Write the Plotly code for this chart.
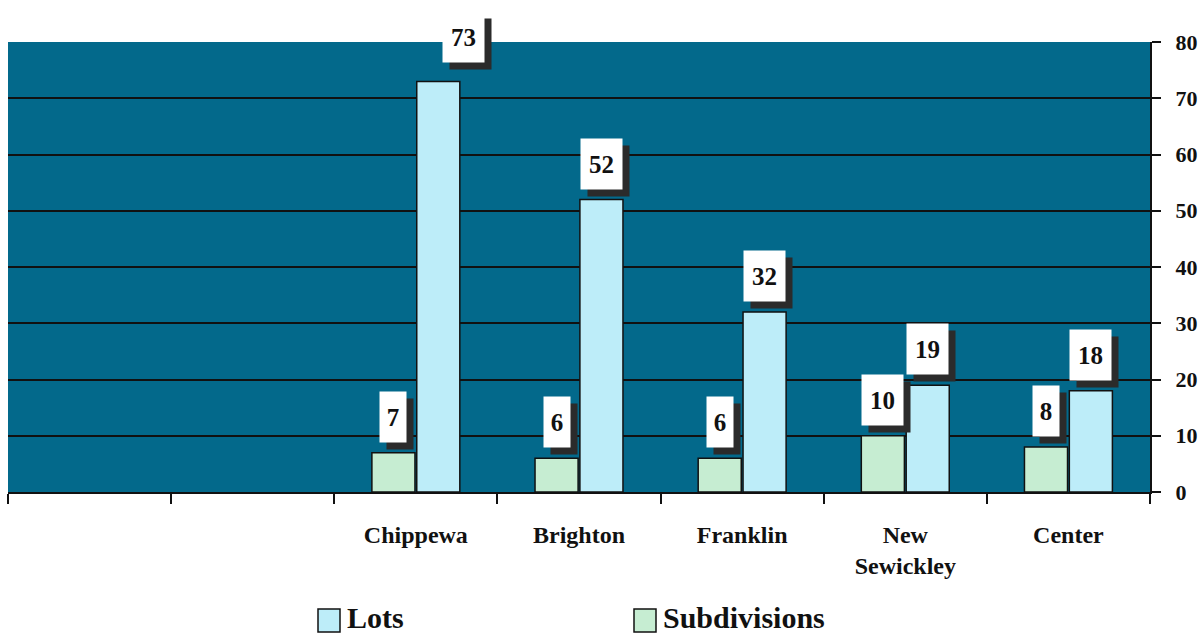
import plotly.graph_objects as go

categories = [" ", "  ", "Chippewa", "Brighton", "Franklin", "New<br>Sewickley", "Center"]
subdivisions = [None, None, 7, 6, 6, 10, 8]
lots = [None, None, 73, 52, 32, 19, 18]
y_ticks = [0, 10, 20, 30, 40, 50, 60, 70, 80]
legend_names = ["Lots", "Subdivisions"]

FONT = "Liberation Serif, Times New Roman, serif"
BG = "#03698B"
COL_SUB = "#C6EDD2"
COL_LOTS = "#BDEDF9"

W, H = 1201, 637
PX0, PX1, PY0, PY1 = 8, 1150, 42, 492  # plot area in pixels
ML, MR, MT, MB = PX0, W - PX1, PY0, H - PY1


def px2paper(px, py):
    return (px - PX0) / (PX1 - PX0), (PY1 - py) / (PY1 - PY0)


fig = go.Figure()
fig.add_trace(go.Bar(x=categories, y=subdivisions, name="Subdivisions", showlegend=False,
                     marker=dict(color=COL_SUB, line=dict(color="#111", width=1.5))))
fig.add_trace(go.Bar(x=categories, y=lots, name="Lots", showlegend=False,
                     marker=dict(color=COL_LOTS, line=dict(color="#111", width=1.5))))

cat_w = (PX1 - PX0) / len(categories)
bargap = 0.45
shift = cat_w * (1 - bargap) / 4

annotations = []
for series, sgn in ((subdivisions, -1), (lots, 1)):
    for c, v in zip(categories, series):
        if v is None:
            continue
        txt = str(v)
        w = 15 * len(txt) + 11
        xs = sgn * shift
        ys = 36
        if v > 70:
            xs += 25
            ys += 8
        annotations.append(dict(x=c, y=v, xref="x", yref="y", text="", showarrow=False,
                                xshift=xs + 7, yshift=ys - 7, width=w, height=50,
                                bgcolor="#2b2b2b", borderpad=0))
        annotations.append(dict(x=c, y=v, xref="x", yref="y", text=txt,
                                showarrow=False, xshift=xs, yshift=ys, width=w, height=50,
                                bgcolor="white", borderpad=0,
                                font=dict(family=FONT, size=25, color="#111", weight="bold")))

# manual legend (large swatches like the original)
shapes = []
legend_items = [(legend_names[0], COL_LOTS, 318), (legend_names[1], COL_SUB, 634)]
for name, col, sx in legend_items:
    x0, y0 = px2paper(sx, 632)
    x1, y1 = px2paper(sx + 22, 609)
    shapes.append(dict(type="rect", xref="paper", yref="paper", x0=x0, x1=x1, y0=y0, y1=y1,
                       fillcolor=col, line=dict(color="#111", width=1.5), layer="above"))
    tx, ty = px2paper(sx + 27, 617)
    annotations.append(dict(x=tx, y=ty, xref="paper", yref="paper", text=name, showarrow=False,
                            xanchor="left", yanchor="middle",
                            font=dict(family=FONT, size=30, color="#111", weight="bold")))

fig.update_layout(
    width=W, height=H,
    margin=dict(l=ML, r=MR, t=MT, b=MB, autoexpand=False),
    paper_bgcolor="white", plot_bgcolor=BG,
    barmode="group", bargap=bargap, bargroupgap=0.04,
    font=dict(family=FONT, color="#111"),
    annotations=annotations, shapes=shapes,
    showlegend=False,
)
fig.update_xaxes(type="category", categoryorder="array", categoryarray=categories,
                 showgrid=False, showline=True, linecolor="#111", linewidth=2,
                 ticks="outside", tickson="boundaries", ticklen=10, tickcolor="#111", tickwidth=2,
                 ticklabelstandoff=20,
                 tickfont=dict(family=FONT, size=24, color="#111", weight="bold"))
fig.update_yaxes(range=[0, 80], tickvals=y_ticks, side="right",
                 showgrid=True, gridcolor="#111", gridwidth=1.5,
                 showline=True, linecolor="#111", linewidth=2, zeroline=False,
                 ticks="outside", ticklen=9, tickcolor="#111", tickwidth=2,
                 ticklabelstandoff=10,
                 tickfont=dict(family=FONT, size=22, color="#111", weight="bold"))

fig.write_html("out.html", config={"displayModeBar": False},
               post_script="document.body.style.margin='0';document.body.style.overflow='hidden';")
